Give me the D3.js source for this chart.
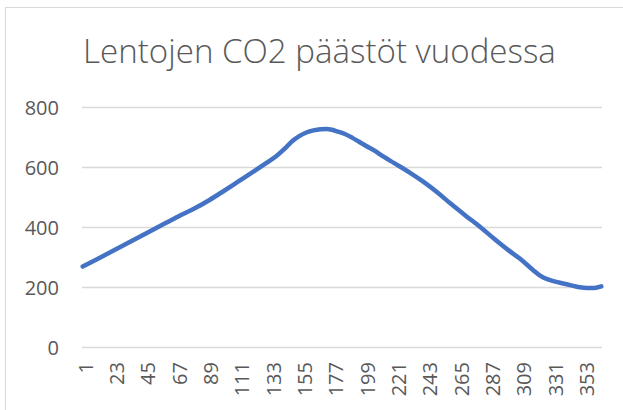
<!DOCTYPE html>
<html>
<head>
<meta charset="utf-8">
<script src="https://cdn.jsdelivr.net/npm/d3@7"></script>
<style>
  html, body { margin: 0; padding: 0; background: #fff; }
  svg { display: block; }
  text { font-family: "Open Sans", "Noto Sans", sans-serif; fill: #595959; }
</style>
</head>
<body>
<svg id="chart" width="623" height="410"></svg>
<script>
const title = "Lentojen CO2 päästöt vuodessa";
const dayCount = 365;
const tickLabels = [1, 23, 45, 67, 89, 111, 133, 155, 177, 199, 221, 243, 265, 287, 309, 331, 353];
const yTicks = [0, 200, 400, 600, 800];
// sampled readings of the series (day of year -> value)
const days =   [1, 10, 20, 30, 40, 50, 60, 70, 80, 90, 100, 110, 120, 130, 137, 143, 148, 153, 158, 163, 168, 172, 176, 180, 185, 190, 195, 200, 207, 210, 220, 230, 240, 250, 259, 270, 280, 290, 300, 308, 317, 322, 327, 332, 340, 350, 355, 360, 365];
const values = [268, 290, 315, 340, 365, 390, 415, 440, 463, 490, 520, 551, 582, 614, 637, 662, 686, 703, 715, 722, 726, 727, 724, 718, 710, 698, 684, 670, 651, 641, 612, 583, 551, 515, 479, 437, 400, 360, 322, 294, 257, 238, 226, 219, 210, 199, 197, 197, 202];

const svg = d3.select("#chart");
const W = 623, H = 410;
const plot = { left: 82, right: 602, top: 107, bottom: 347 };

// chart border
svg.append("rect")
  .attr("x", 5.5).attr("y", 7.5)
  .attr("width", W + 10).attr("height", H + 10)
  .attr("fill", "#fff").attr("stroke", "#D9D9D9").attr("stroke-width", 1);

const x = d3.scaleLinear().domain([0.5, dayCount + 0.5]).range([plot.left, plot.right]);
const y = d3.scaleLinear().domain([0, 800]).range([plot.bottom, plot.top]);

// gridlines
svg.append("g").selectAll("line").data(yTicks).join("line")
  .attr("x1", plot.left).attr("x2", plot.right)
  .attr("y1", d => Math.round(y(d)) + 0.5).attr("y2", d => Math.round(y(d)) + 0.5)
  .attr("stroke", "#D9D9D9").attr("stroke-width", 1.3);

// y axis labels
const yAxis = d3.axisLeft(y).tickValues(yTicks).tickSize(0).tickPadding(0);
const gy = svg.append("g").attr("transform", `translate(${59},0)`).call(yAxis);
gy.select(".domain").remove();
gy.selectAll("text").attr("font-size", 20).attr("fill", "#595959")
  .style("font-family", '"Open Sans", "Noto Sans", sans-serif').attr("dy", "0.36em");

// x axis labels (rotated)
const xAxis = d3.axisBottom(x).tickValues(tickLabels).tickSize(0).tickPadding(0);
const gx = svg.append("g").attr("transform", `translate(0,${362})`).call(xAxis);
gx.select(".domain").remove();
gx.selectAll("text")
  .attr("font-size", 20).attr("fill", "#595959")
  .style("font-family", '"Open Sans", "Noto Sans", sans-serif')
  .attr("text-anchor", "end")
  .attr("transform", "rotate(-90)")
  .attr("x", 0).attr("y", 0).attr("dy", "0.47em");

// line
const pts = days.map((d, i) => [d, values[i]]);
const line = d3.line().x(d => x(d[0])).y(d => y(d[1])).curve(d3.curveMonotoneX);
svg.append("path").datum(pts)
  .attr("d", line)
  .attr("fill", "none").attr("stroke", "#4472C4")
  .attr("stroke-width", 4.5)
  .attr("stroke-linejoin", "round").attr("stroke-linecap", "round");

// title
const t = svg.append("text").text(title)
  .attr("x", 319.5).attr("y", 63)
  .attr("text-anchor", "middle")
  .attr("font-weight", 300)
  .attr("font-size", 30).attr("fill", "#595959");
const len = t.node().getComputedTextLength();
t.attr("font-size", 30 * 473 / len);
</script>
</body>
</html>
